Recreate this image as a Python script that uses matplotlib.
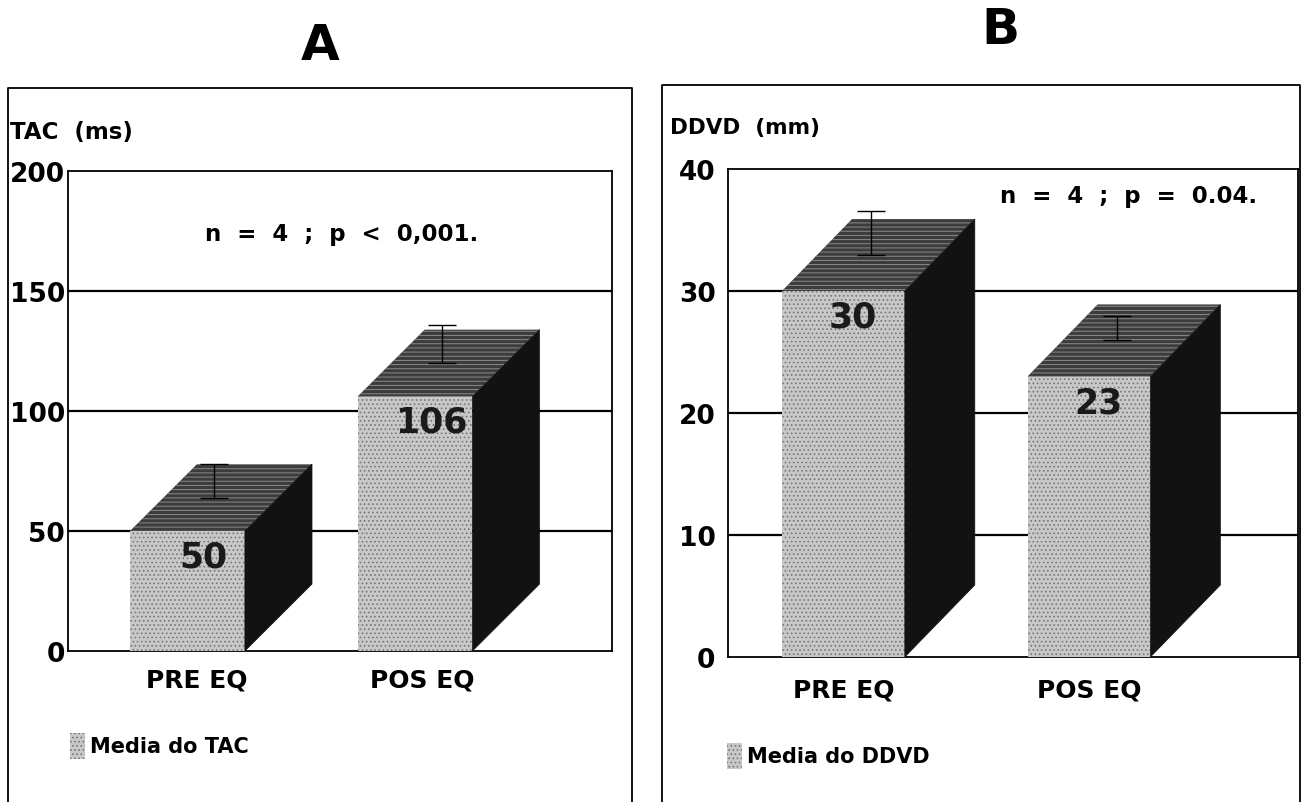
import matplotlib
matplotlib.use("Agg")
import matplotlib.pyplot as plt
from matplotlib.patches import Polygon, Rectangle
from matplotlib.lines import Line2D

plt.rcParams['font.family'] = ['DejaVu Sans']
plt.rcParams['font.weight'] = 'bold'
plt.rcParams['hatch.linewidth'] = 0.7

# data
groups = ["PRE EQ", "POS EQ"]
tac_mean = [50, 106]
tac_err = [14, 16]
ddvd_mean = [30, 23]
ddvd_err = [3.6, 2.0]

W, H = 1302, 803


def px_axes(fig, left, top, right, bottom):
	return fig.add_axes([left / W, 1 - bottom / H, (right - left) / W, (bottom - top) / H])


def draw_bars(ax, means, errs, width, dx, dy):
	for i, (m, e) in enumerate(zip(means, errs)):
		x0 = i - width / 2
		x1 = i + width / 2
		front = Rectangle((x0, 0), width, m, facecolor='#c8c8c8', edgecolor='#777777',
			hatch='....', lw=0, zorder=3)
		top = Polygon([(x0, m), (x1, m), (x1 + dx, m + dy), (x0 + dx, m + dy)],
			closed=True, facecolor='#3c3c3c', edgecolor='#8a8a8a', hatch='----', lw=0, zorder=3)
		side = Polygon([(x1, 0), (x1 + dx, dy), (x1 + dx, m + dy), (x1, m)],
			closed=True, facecolor='#121212', edgecolor='#121212', lw=0.5, zorder=3)
		ax.add_patch(front)
		ax.add_patch(top)
		ax.add_patch(side)
		ax.errorbar(i + dx / 2 - 0.03, m + dy / 2, yerr=[[0], [e]], color='black',
			lw=1.0, capsize=10, capthick=1.0, zorder=5)


def style_axes(ax, ylim, yticks, xlim):
	ax.set_xlim(*xlim)
	ax.set_ylim(*ylim)
	ax.set_yticks(yticks)
	ax.set_yticklabels([str(t) for t in yticks], fontsize=19, fontweight='bold')
	for t in yticks[1:-1]:
		ax.axhline(t, color='black', lw=1.6, zorder=1)
	ax.tick_params(axis='y', length=0, pad=2)
	ax.tick_params(axis='x', length=0, pad=12)
	for s in ax.spines.values():
		s.set_linewidth(1.3)


fig = plt.figure(figsize=(W / 100, H / 100), dpi=100)

# ---- panel A
axA = px_axes(fig, 68, 172, 612, 652)
style_axes(axA, (0, 200), [0, 50, 100, 150, 200], (-0.525, 1.866))
draw_bars(axA, tac_mean, tac_err, 0.505, 0.295, 27.9)
axA.set_xticks([0.04, 1.03])
axA.set_xticklabels(groups, fontsize=18, fontweight='bold')
for i, m in enumerate(tac_mean):
	axA.text(i + 0.07, m - 10.5, str(m), ha='center', va='center', fontsize=25,
		fontweight='bold', color='#1a1a1a', zorder=6)
axA.text(0.503, 0.869, "n  =  4  ;  p  <  0,001.", transform=axA.transAxes, ha='center',
	va='center', fontsize=16.5, fontweight='bold')

# ---- panel B
axB = px_axes(fig, 728, 170, 1298, 658)
style_axes(axB, (0, 40), [0, 10, 20, 30, 40], (-0.470, 1.851))
draw_bars(axB, ddvd_mean, ddvd_err, 0.5, 0.285, 5.9)
axB.set_xticks([0.0, 1.0])
axB.set_xticklabels(groups, fontsize=18, fontweight='bold')
axB.tick_params(axis='y', pad=9)
axB.tick_params(axis='x', pad=15)
for i, m in enumerate(ddvd_mean):
	axB.text(i + 0.04, m - 2.1, str(m), ha='center', va='center', fontsize=25,
		fontweight='bold', color='#1a1a1a', zorder=6)
axB.text(0.703, 0.945, "n  =  4  ;  p  =  0.04.", transform=axB.transAxes, ha='center',
	va='center', fontsize=16.5, fontweight='bold')

# panel titles, axis captions and legends
fig.text(320 / W, 1 - 46 / H, "A", ha='center', va='center', fontsize=36, fontweight='bold')
fig.text(1000 / W, 1 - 30 / H, "B", ha='center', va='center', fontsize=36, fontweight='bold')
fig.text(10 / W, 1 - 133 / H, "TAC  (ms)", ha='left', va='center', fontsize=16.5, fontweight='bold')
fig.text(670 / W, 1 - 128 / H, "DDVD  (mm)", ha='left', va='center', fontsize=15.5, fontweight='bold')

for (lx, ly, label) in [(70, 747, "Media do TAC"), (727, 757, "Media do DDVD")]:
	fig.add_artist(Rectangle((lx / W, 1 - (ly + 13) / H), 15 / W, 26 / H, transform=fig.transFigure,
		facecolor='#c8c8c8', edgecolor='#777777', hatch='....', lw=0))
	fig.text((lx + 20) / W, 1 - ly / H, label, ha='left', va='center', fontsize=15, fontweight='bold')

# outer frames of the two panels
for (l, t, r) in [(8, 89, 632), (662, 86, 1300)]:
	xs = [l / W, l / W, r / W, r / W]
	ys = [0, 1 - t / H, 1 - t / H, 0]
	fig.add_artist(Line2D(xs, ys, transform=fig.transFigure, color='black', lw=1.3))

fig.savefig("out.png", dpi=100)
